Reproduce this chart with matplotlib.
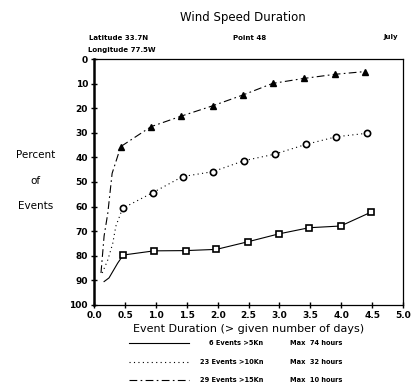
import matplotlib
matplotlib.use("Agg")
import matplotlib.pyplot as plt
from matplotlib.lines import Line2D

# 6 events > 5 kn (solid, squares) - first points are the lead-in curve
sq_x = [0.16, 0.24, 0.38, 0.47, 0.97, 1.48, 1.98, 2.49, 2.99, 3.48, 3.99, 4.48]
sq_y = [90.5, 89.0, 83.0, 79.7, 78.0, 77.9, 77.4, 74.3, 71.1, 68.6, 67.9, 62.3]
sq_lead = 3

# 23 events > 10 kn (dotted, circles)
ci_x = [0.13, 0.22, 0.30, 0.35, 0.46, 0.95, 1.43, 1.92, 2.43, 2.92, 3.43, 3.92, 4.41]
ci_y = [87.0, 81.7, 75.0, 68.0, 60.7, 54.3, 47.8, 45.8, 41.3, 38.7, 34.7, 31.6, 30.2]
ci_lead = 4

# 29 events > 15 kn (dash-dot, triangles)
tr_x = [0.11, 0.16, 0.22, 0.29, 0.43, 0.92, 1.41, 1.92, 2.41, 2.89, 3.39, 3.90, 4.38]
tr_y = [87.0, 72.0, 62.7, 46.5, 35.6, 27.5, 23.2, 19.0, 14.6, 9.9, 7.9, 6.2, 5.1]
tr_lead = 4

x_ticks = [0.0, 0.5, 1.0, 1.5, 2.0, 2.5, 3.0, 3.5, 4.0, 4.5, 5.0]
y_ticks = list(range(0, 101, 10))

legend_labels = ["6 Events >5Kn", "23 Events >10Kn", "29 Events >15Kn"]
legend_max = ["Max  74 hours", "Max  32 hours", "Max  10 hours"]

fig = plt.figure(figsize=(4.15, 3.86), dpi=100)
ax = fig.add_axes([0.227, 0.210, 0.744, 0.637])

dashdot = (0, (7, 3, 1.5, 3))
ax.plot(sq_x, sq_y, color="black", lw=0.8, ls="-",
        marker="s", ms=4.5, mfc="white", mec="black", mew=1.2,
        markevery=list(range(sq_lead, len(sq_x))))
ax.plot(ci_x, ci_y, color="black", lw=0.8, ls=(0, (1, 3)),
        marker="o", ms=4.5, mfc="white", mec="black", mew=1.2,
        markevery=list(range(ci_lead, len(ci_x))))
ax.plot(tr_x, tr_y, color="black", lw=0.8, ls=dashdot,
        marker="^", ms=4.5, mfc="black", mec="black",
        markevery=list(range(tr_lead, len(tr_x))))

ax.set_xlim(0, 5.0)
ax.set_ylim(100, 0)
ax.set_xticks(x_ticks)
ax.set_xticklabels([f"{v:.1f}" for v in x_ticks])
ax.set_yticks(y_ticks)
ax.tick_params(direction="inout", length=5, width=1, labelsize=6.5, pad=2)
for lab in ax.get_xticklabels() + ax.get_yticklabels():
    lab.set_fontweight("bold")
ax.spines["left"].set_linewidth(1.8)
for s in ["top", "right", "bottom"]:
    ax.spines[s].set_linewidth(0.9)

ax.set_xlabel("Event Duration (> given number of days)", fontsize=8, labelpad=3)

fig.text(0.585, 0.955, "Wind Speed Duration", fontsize=8.5, ha="center", va="center")
fig.text(0.215, 0.902, "Latitude 33.7N", fontsize=5, fontweight="bold", va="center")
fig.text(0.213, 0.870, "Longitude 77.5W", fontsize=5, fontweight="bold", va="center")
fig.text(0.562, 0.902, "Point 48", fontsize=5, fontweight="bold", va="center")
fig.text(0.925, 0.905, "July", fontsize=5, fontweight="bold", va="center")

for txt, yy in [("Percent", 0.598), ("of", 0.530), ("Events", 0.466)]:
    fig.text(0.085, yy, txt, fontsize=7.5, ha="center", va="center")

styles = ["-", (0, (1, 3)), dashdot]
rows = [0.112, 0.062, 0.016]
for lab, mx, st, yy in zip(legend_labels, legend_max, styles, rows):
    fig.add_artist(Line2D([0.31, 0.455], [yy, yy], color="black", lw=0.8, ls=st))
    fig.text(0.635, yy, lab, fontsize=4.8, fontweight="bold", ha="right", va="center")
    fig.text(0.70, yy, mx, fontsize=4.8, fontweight="bold", ha="left", va="center")

fig.savefig("out.png", dpi=100)
